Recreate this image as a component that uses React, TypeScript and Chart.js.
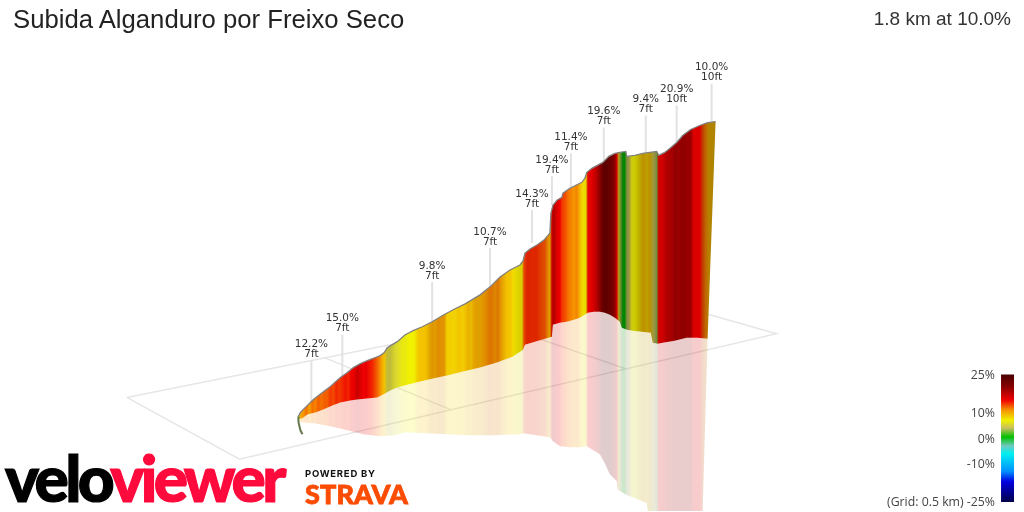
import React, { useEffect, useRef } from "react";
import { Chart, registerables } from "chart.js";

Chart.register(...registerables);

const title = "Subida Alganduro por Freixo Seco";
const summary = "1.8 km at 10.0%";

// Projected ridge of the climb, its foot on the ground plane, and the foot of its mirror image
const ridgeX = [298, 300, 306, 313, 322, 330, 340, 347, 353, 360, 367, 375, 380, 384, 387, 392, 397, 405, 413, 422, 432, 442, 453, 465, 480, 490, 500, 510, 520, 523, 525, 530, 537, 544, 550, 551, 553, 557, 562, 563, 570, 576, 582, 585, 587, 592, 603, 609, 615, 620, 626, 627, 635, 643, 650, 657, 659, 665, 670, 677, 683, 691, 700, 708, 716];
const ridgeY = [417, 413, 407, 400, 393, 387, 378, 373, 368, 364, 361, 358, 356, 353, 348, 345, 342, 335, 331, 327, 322, 316, 310, 304, 295, 287, 277, 270, 265, 261, 253, 249, 245, 240, 233, 213, 205, 200, 197, 193, 188, 185, 182, 178, 172, 168, 162, 156, 153, 152, 151, 156, 155, 153, 152, 151, 155, 152, 148, 142, 135, 129, 125, 122, 121];
const footX = [298, 302, 307, 315, 323, 332, 340, 350, 357, 367, 377, 383, 390, 397, 408, 420, 433, 447, 463, 480, 497, 513, 523, 525, 535, 552, 553, 560, 567, 574, 580, 588, 594, 600, 605, 610, 615, 620, 622, 627, 633, 642, 651, 653, 658, 663, 675, 687, 698, 708];
const footY = [420, 419, 415, 413, 410, 406, 403, 401, 400, 399, 398, 395, 391, 388, 385, 382, 379, 376, 372, 368, 363, 357, 350, 345, 342, 337, 325, 323, 322, 320, 318, 313, 312, 312, 313, 315, 318, 322, 328, 330, 331, 332, 333, 343, 344, 343, 341, 338, 338, 339];
const mirrorX = [298, 300, 313, 330, 347, 363, 380, 395, 405, 425, 447, 470, 493, 520, 523, 550, 553, 560, 570, 580, 587, 600, 605, 610, 617, 618, 627, 647, 648, 703];
const mirrorY = [421, 423, 424, 427, 431, 435, 437, 436, 433, 434, 435, 436, 436, 435, 434, 438, 442, 447, 448, 448, 447, 455, 464, 475, 482, 491, 496, 504, 512, 512];
const tailX = [298, 298, 299, 300, 302];
const tailY = [417, 422, 427, 431, 435];

// Gradient of each stripe along the climb
const stripeX = [
  298, 300, 303, 306, 309, 312, 315, 318, 321, 324,
  327, 330, 333, 336, 339, 342, 345, 348, 351, 354,
  357, 360, 363, 366, 369, 372, 375, 378, 381, 384,
  387, 390, 393, 396, 399, 402, 405, 408, 411, 414,
  417, 420, 423, 426, 429, 432, 435, 438, 441, 444,
  447, 450, 453, 456, 459, 462, 465, 468, 471, 474,
  477, 480, 483, 486, 489, 492, 495, 498, 501, 504,
  507, 510, 513, 516, 519, 522, 524, 527, 530, 533,
  536, 539, 542, 545, 548, 550, 552, 554, 557, 560,
  562, 565, 568, 571, 574, 577, 580, 583, 586, 588,
  591, 594, 597, 600, 603, 606, 609, 612, 615, 617,
  619, 621, 623, 625, 627, 629, 632, 635, 638, 641,
  644, 647, 650, 653, 655, 657, 659, 661, 664, 667,
  670, 673, 676, 679, 682, 685, 688, 691, 694, 697,
  700, 703, 706, 709, 712, 716,
];
const stripeGrade = [
  6, 10, 11, 12, 10.5, 12, 11.5, 12.5, 12, 12.5,
  12.5, 13.5, 13, 14, 13.5, 14, 14.5, 14, 15, 15.5,
  17, 16, 15, 15.5, 14.5, 14, 13, 12, 10.5, 9,
  5, 5, 5.5, 5.5, 6, 6.5, 6.5, 7, 7, 7,
  8.5, 9, 9, 9.2, 9.5, 10.5, 10, 11, 10.5, 10.5,
  8.5, 8.5, 8.3, 8.5, 9, 8.5, 9, 9.5, 9, 10,
  10, 10, 10.5, 11, 11.5, 11.5, 11, 11.5, 10.5, 9.5,
  9, 9, 8, 7.5, 7.5, 7.5, 13, 14, 14, 13.8,
  14, 13.5, 13, 12.8, 11, 10, 17, 18, 16, 15,
  13.5, 13, 12, 11.5, 11, 11.5, 9.5, 8, 7.5, 14.8,
  15, 16.5, 18, 20, 23, 23.5, 23, 22, 20, 15,
  6, 3, 0.5, 0.5, 3.5, 4, 6.5, 7, 7.5, 8.5,
  9.5, 8.5, 9.5, 5, 4, 3, 15, 15, 15.5, 17,
  17.5, 18, 19, 18.5, 19, 19, 18.5, 18.5, 15, 15,
  15, 13, 11.5, 10, 9.5, 9.5,
];
const stripeShade = [
  1, 1, 1, 1, 1, 1, 1, 1, 1, 1,
  1, 1, 1, 1, 1, 1, 1, 1, 1, 1,
  1, 1, 1, 1, 1, 1, 1, 1, 1, 1,
  0.9, 0.9, 0.95, 1, 1, 1, 1, 1, 1, 1,
  1, 1, 1, 1, 0.92, 0.92, 0.92, 0.92, 0.92, 0.92,
  1, 1, 1, 1, 1, 1, 1, 0.96, 0.96, 0.94,
  0.92, 0.92, 0.92, 0.92, 0.9, 0.9, 0.9, 0.9, 0.94, 0.96,
  1, 1, 1, 0.95, 0.92, 0.9, 0.95, 0.92, 0.92, 0.92,
  0.92, 0.92, 0.92, 0.92, 0.92, 0.92, 1, 1, 1, 1,
  1, 1, 1, 1, 1, 1, 1, 1, 0.95, 0.95,
  0.95, 1, 1, 1, 1, 1, 1, 1, 1, 0.9,
  0.75, 0.7, 0.7, 0.7, 0.75, 0.75, 0.88, 0.85, 0.8, 0.78,
  0.78, 0.78, 0.78, 0.75, 0.75, 0.75, 0.88, 0.88, 0.88, 0.88,
  0.9, 0.9, 0.9, 0.9, 0.9, 0.9, 0.9, 0.9, 0.92, 0.92,
  0.92, 0.8, 0.78, 0.75, 0.72, 0.72,
];

// Colour scale
const scaleGrades = [25, 20, 15, 11, 7, 4, 0.5, -3, -6, -13, -17, -25];
const scaleColors = [
  [74, 0, 0], [140, 0, 0], [240, 0, 0], [245, 150, 0], [240, 240, 0], [200, 192, 96],
  [0, 192, 0], [112, 200, 192], [0, 240, 240], [0, 144, 255], [0, 0, 224], [0, 0, 74],
];
const scaleLabels = ["25%", "10%", "0%", "-10%", "(Grid: 0.5 km) -25%"];
const scaleLabelY = [375, 413, 439, 464, 502];
const scaleBarX = [1002, 1015, 1015, 1002];
const scaleBarY = [375, 375, 503, 503];

// Pins
const pinX = [311, 342, 432, 490, 532, 552, 571, 604, 646, 677, 712];
const pinTop = [361, 335, 282, 248, 210, 176, 153, 127, 115, 105, 83];
const pinFoot = [402, 378, 322, 287, 243, 205, 188, 162, 153, 142, 121];
const pinGrade = ["12.2%", "15.0%", "9.8%", "10.7%", "14.3%", "19.4%", "11.4%", "19.6%", "9.4%", "20.9%", "10.0%"];
const pinLength = ["7ft", "7ft", "7ft", "7ft", "7ft", "7ft", "7ft", "7ft", "7ft", "10ft", "10ft"];

// Ground plane
const planeX = [126, 640, 777, 239, 126];
const planeY = [398, 295, 334, 460, 398];
const gridAX = [324, 450];
const gridAY = [358, 410];
const gridBX = [496, 625];
const gridBY = [324, 369];

const pts = (xs: number[], ys: number[]) => xs.map((x, i) => ({ x, y: ys[i] }));

function colorFor(grade: number, shade = 1, alpha = 1) {
  let i = 0;
  while (i < scaleGrades.length - 2 && grade < scaleGrades[i + 1]) i++;
  const t = (scaleGrades[i] - grade) / (scaleGrades[i] - scaleGrades[i + 1]);
  const c = scaleColors[i].map((v, k) => Math.round((v + (scaleColors[i + 1][k] - v) * t) * shade));
  return `rgba(${c[0]},${c[1]},${c[2]},${alpha})`;
}

function stripes(chart: any, alpha: number) {
  const sx = chart.scales?.x;
  const x0 = sx?.getPixelForValue(stripeX[0]);
  const x1 = sx?.getPixelForValue(stripeX[stripeX.length - 1]);
  if (!Number.isFinite(x0) || !Number.isFinite(x1)) return colorFor(9, 1, alpha);
  const g = chart.ctx.createLinearGradient(x0, 0, x1, 0);
  stripeX.forEach((x, i) => {
    g.addColorStop((sx.getPixelForValue(x) - x0) / (x1 - x0), colorFor(stripeGrade[i], stripeShade[i], alpha));
  });
  return g;
}

function scaleBar(chart: any) {
  const sy = chart.scales?.y;
  const y0 = sy?.getPixelForValue(scaleBarY[0]);
  const y1 = sy?.getPixelForValue(scaleBarY[2]);
  if (!Number.isFinite(y0) || !Number.isFinite(y1)) return "#888";
  const g = chart.ctx.createLinearGradient(0, y0, 0, y1);
  scaleGrades.forEach((v, i) => {
    const c = scaleColors[i];
    g.addColorStop((25 - v) / 50, `rgb(${c[0]},${c[1]},${c[2]})`);
  });
  return g;
}

const pinLabels = {
  id: "pinLabels",
  afterDatasetsDraw(chart: any) {
    const { ctx, scales } = chart;
    ctx.save();
    ctx.font = '10.5px "DejaVu Sans"';
    ctx.fillStyle = "#333";
    ctx.textAlign = "center";
    ctx.textBaseline = "middle";
    pinX.forEach((x, i) => {
      const px = scales.x.getPixelForValue(x);
      const py = scales.y.getPixelForValue(pinTop[i]);
      ctx.fillText(pinGrade[i], px, py - 16);
      ctx.fillText(pinLength[i], px, py - 6);
    });
    ctx.restore();
  },
};

const line = (data: any[], color: string, width: number, order: number) => ({
  data,
  showLine: true,
  borderColor: color,
  borderWidth: width,
  pointRadius: 0,
  fill: false,
  tension: 0,
  order,
});

const shape = (data: any[], background: any, order: number) => ({
  data,
  showLine: true,
  borderWidth: 0,
  borderColor: "transparent",
  pointRadius: 0,
  fill: "shape",
  backgroundColor: background,
  tension: 0,
  order,
});

const abs: React.CSSProperties = { position: "absolute", whiteSpace: "nowrap", margin: 0 };

export default function App() {
  const ref = useRef<HTMLCanvasElement>(null);

  useEffect(() => {
    document.body.style.margin = "0";
    document.body.style.background = "#fff";
    const wall = [...pts(ridgeX, ridgeY), ...pts(footX, footY).reverse()];
    const mirror = [...pts(footX, footY), ...pts(mirrorX, mirrorY).reverse()];
    const chart = new Chart(ref.current!, {
      type: "scatter",
      data: {
        datasets: [
          line(pts(ridgeX, ridgeY), "#808080", 1.3, 1),
          line(pts(tailX, tailY), "#66784e", 2, 1),
          shape(wall, (c: any) => stripes(c.chart, 1), 2),
          shape(mirror, (c: any) => stripes(c.chart, 0.2), 3),
          shape(pts(scaleBarX, scaleBarY), (c: any) => scaleBar(c.chart), 3),
          ...pinX.map((x, i) =>
            line(pts([x, x], [pinTop[i], pinFoot[i]]), "#e2e2e2", 2, 4),
          ),
          line(pts(planeX, planeY), "#e6e6e6", 1.5, 5),
          line(pts(gridAX, gridAY), "#e6e6e6", 1.5, 5),
          line(pts(gridBX, gridBY), "#e6e6e6", 1.5, 5),
        ] as any,
      },
      options: {
        animation: false,
        responsive: false,
        layout: { padding: 0 },
        plugins: { legend: { display: false }, tooltip: { enabled: false }, title: { display: false } },
        scales: {
          x: { type: "linear", min: 0, max: 1024, display: false },
          y: { type: "linear", min: 0, max: 512, reverse: true, display: false },
        },
      },
      plugins: [pinLabels],
    });
    chart.update();
    return () => chart.destroy();
  }, []);

  return (
    <div style={{ position: "relative", width: 1024, height: 512, overflow: "hidden", background: "#fff" }}>
      <canvas ref={ref} width={1024} height={512} style={{ position: "absolute", left: 0, top: 0, width: 1024, height: 512 }} />
      <div style={{ ...abs, left: 13, top: 5, font: '25.7px "Liberation Sans"', color: "#222" }}>{title}</div>
      <div style={{ ...abs, right: 13, top: 8, font: '19px "Liberation Sans"', color: "#333" }}>{summary}</div>
      {scaleLabels.map((t, i) => (
        <div key={t} style={{ ...abs, right: 29, top: scaleLabelY[i] - 9, font: '12.3px/18px "Open Sans"', color: "#444" }}>{t}</div>
      ))}
      <div style={{ ...abs, left: 5, top: 442, font: '900 64px/72px "Lato"', letterSpacing: "-3.6px", WebkitTextStroke: "1.2px currentColor" }}>
        <span style={{ color: "#000" }}>velo</span>
        <span style={{ color: "#ff0a3c" }}>viewer</span>
      </div>
      <div style={{ ...abs, left: 305, top: 467, font: '700 9.5px/14px "Inter"', letterSpacing: "0.75px", color: "#111" }}>POWERED BY</div>
      <div style={{ ...abs, left: 305, top: 479, font: '900 27px/30px "Lato"', letterSpacing: "0.1px", color: "#fc4c02", WebkitTextStroke: "0.8px currentColor" }}>STRAVA</div>
    </div>
  );
}
